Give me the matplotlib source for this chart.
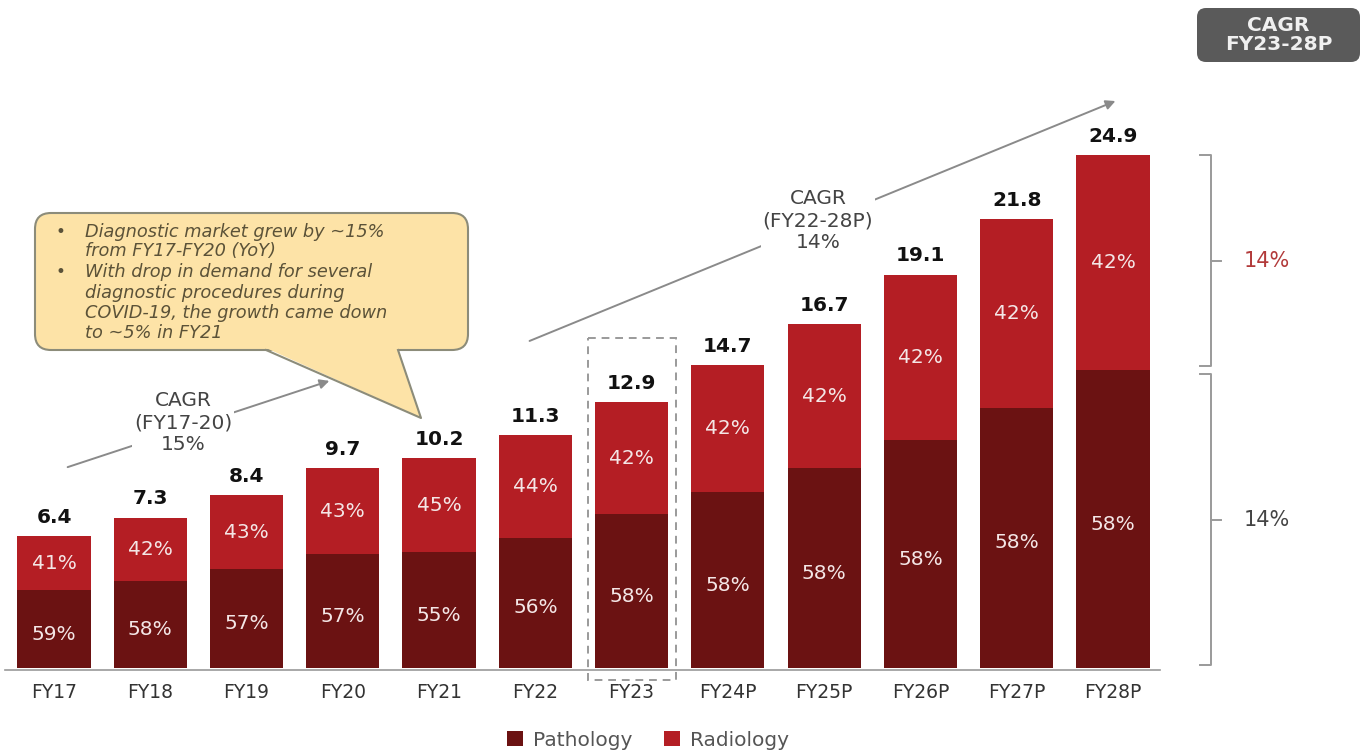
import matplotlib
matplotlib.use("Agg")
import matplotlib.pyplot as plt
from matplotlib.patches import FancyBboxPatch, Polygon, Rectangle
import numpy as np

plt.rcParams['font.family'] = ['DejaVu Sans']

years = ["FY17", "FY18", "FY19", "FY20", "FY21", "FY22", "FY23",
         "FY24P", "FY25P", "FY26P", "FY27P", "FY28P"]
totals = [6.4, 7.3, 8.4, 9.7, 10.2, 11.3, 12.9, 14.7, 16.7, 19.1, 21.8, 24.9]
pathology_pct = [59, 58, 57, 57, 55, 56, 58, 58, 58, 58, 58, 58]
radiology_pct = [41, 42, 43, 43, 45, 44, 42, 42, 42, 42, 42, 42]
cagr_17_20 = "15%"
cagr_22_28 = "14%"
cagr_right_top = "14%"
cagr_right_bottom = "14%"

C_PATH = "#6b1212"
C_RAD = "#b41e24"
W, H = 1365, 751

fig = plt.figure(figsize=(W / 100, H / 100), dpi=100)
ax = fig.add_axes([0, 0, 1, 1])
# bar i centered at 54 + 96.27*i px, baseline at 668 px, 20.6 px per unit
sx, x0 = 96.27, 54.0
sy, y0 = 20.6, 668.0
ax.set_xlim(-x0 / sx, (W - x0) / sx)
ax.set_ylim(-(H - y0) / sy, y0 / sy)
ax.axis("off")

# overlay axes in pixel coordinates for annotations
dx = fig.add_axes([0, 0, 1, 1])
dx.set_xlim(0, W)
dx.set_ylim(H, 0)
dx.axis("off")
dx.patch.set_alpha(0)

def ypix(v):
    return y0 - sy * v

xs = np.arange(len(years))
tot = np.array(totals)
path = tot * np.array(pathology_pct) / 100.0
rad = tot - path
bw = 0.76
ax.bar(xs, path, width=bw, color=C_PATH, zorder=3, label="Pathology")
ax.bar(xs, rad, width=bw, bottom=path, color=C_RAD, zorder=3, label="Radiology")

for i in xs:
    ax.text(i, tot[i] + 0.45, f"{totals[i]}", ha="center", va="bottom",
            fontsize=14.5, fontweight="bold", color="#111111", zorder=5)
    ax.text(i, path[i] / 2 - 0.25, f"{pathology_pct[i]}%", ha="center", va="center",
            fontsize=14.5, color="#f4e6e6", zorder=5)
    ax.text(i, path[i] + rad[i] / 2, f"{radiology_pct[i]}%", ha="center", va="center",
            fontsize=14.5, color="#f4e6e6", zorder=5)
    ax.text(i, (y0 - 693) / sy, years[i], ha="center", va="center",
            fontsize=13.5, color="#333333")

# baseline
dx.plot([5, 1160], [669.5, 669.5], color="#999999", lw=1.2)

# dashed box around FY23
dx.add_patch(Rectangle((588, 338), 88, 342, fill=False,
                       ls=(0, (4, 3)), ec="#9a9a9a", lw=1.4))

# CAGR arrows
def arrow(p0, p1):
    dx.annotate("", xy=p1, xytext=p0,
                arrowprops=dict(arrowstyle="-|>", color="#8a8a8a", lw=1.4,
                                mutation_scale=14))

arrow((65, 468), (332, 380))
arrow((527, 342), (1118, 100))
dx.text(183, 423, f"CAGR\n(FY17-20)\n{cagr_17_20}", ha="center", va="center", fontsize=14.5,
        color="#444444", linespacing=1.2, zorder=6,
        bbox=dict(fc="white", ec="none", pad=1))
dx.text(818, 221, f"CAGR\n(FY22-28P)\n{cagr_22_28}", ha="center", va="center", fontsize=14.5,
        color="#444444", linespacing=1.2, zorder=6,
        bbox=dict(fc="white", ec="none", pad=1))

# callout box
FILL = "#fde3a7"
EDGE = "#8c8c7a"
dx.add_patch(FancyBboxPatch((35, 213), 433, 137,
                            boxstyle="round,pad=0,rounding_size=16",
                            fc=FILL, ec=EDGE, lw=1.5, zorder=6))
dx.add_patch(Polygon([(266, 348), (398, 348), (421, 418)], closed=True,
                     fc=FILL, ec="none", zorder=6.2))
dx.plot([266, 421, 398], [350, 418, 350], color=EDGE, lw=1.5, zorder=6.3)
lines = [("•", "Diagnostic market grew by ~15%"), (None, "from FY17-FY20 (YoY)"),
         ("•", "With drop in demand for several"), (None, "diagnostic procedures during"),
         (None, "COVID-19, the growth came down"), (None, "to ~5% in FY21")]
ys = [232, 251, 272, 293, 313, 333]
for (b, t), yy in zip(lines, ys):
    if b:
        dx.text(55, yy, b, ha="left", va="center", fontsize=12,
                color="#5b5238", zorder=7)
    dx.text(85, yy, t, ha="left", va="center", fontsize=12.8, style="italic",
            color="#5b5238", zorder=7)

# right brackets (from FY28P segments)
xb, capx, tickx = 1211, 1200, 1221
top_hi, top_lo = ypix(tot[-1]), ypix(path[-1]) - 4
bot_hi, bot_lo = ypix(path[-1]) + 4, ypix(0) - 3
for (hi, lo), lab, col in zip([(top_hi, top_lo), (bot_hi, bot_lo)],
                              [cagr_right_top, cagr_right_bottom], ["#b23a3a", "#444444"]):
    dx.plot([capx, xb, xb, capx], [hi, hi, lo, lo], color="#9a9a9a", lw=1.4)
    mid = (lo + hi) / 2
    dx.plot([xb, tickx], [mid, mid], color="#9a9a9a", lw=1.4)
    dx.text(1244, mid, lab, ha="left", va="center", fontsize=15, color=col)

# CAGR header box
dx.add_patch(FancyBboxPatch((1197, 8), 163, 54,
                            boxstyle="round,pad=0,rounding_size=9",
                            fc="#5a5a5a", ec="none", zorder=6))
dx.text(1278.5, 35, "CAGR\nFY23-28P", ha="center", va="center",
        fontsize=14.5, fontweight="bold", color="#f0f0f0", linespacing=1.0, zorder=7)

# legend
leg = ax.legend(loc="center", bbox_to_anchor=(648 / W, 1 - 740 / H), ncol=2, frameon=False,
                fontsize=14.5, handlelength=0.8, handleheight=0.8, columnspacing=1.6,
                handletextpad=0.5, bbox_transform=fig.transFigure)
for t in leg.get_texts():
    t.set_color("#555555")

fig.savefig("out.png", dpi=100, facecolor="white")
